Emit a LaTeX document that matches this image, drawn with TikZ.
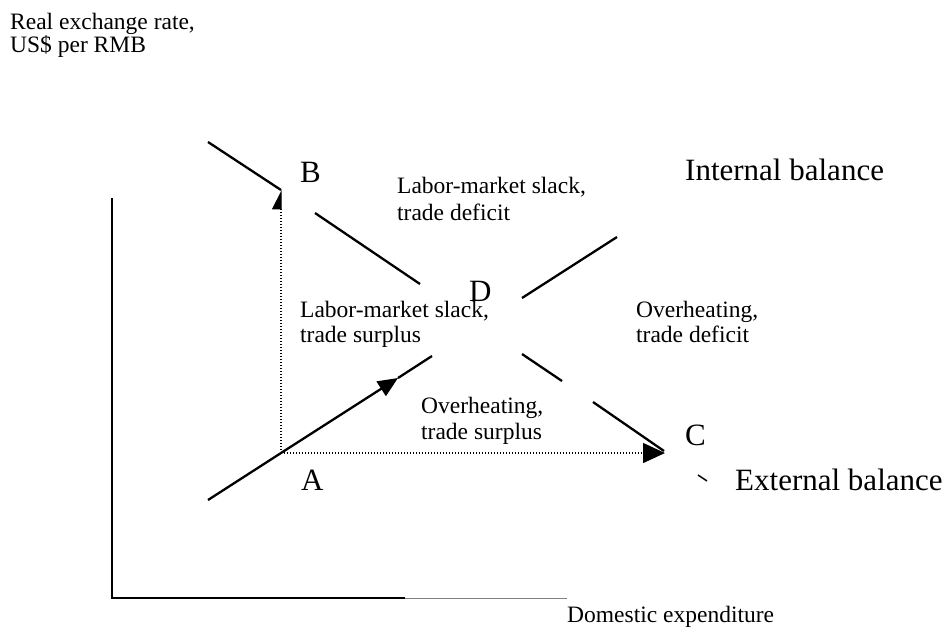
\documentclass[tikz,border=0pt]{standalone}
\usepackage{fontspec}
\setmainfont{Liberation Serif}
\usetikzlibrary{arrows.meta}
\begin{document}
\begin{tikzpicture}[x=1pt,y=-1pt,
  curve/.style={line width=2.3pt},
  axisline/.style={line width=2pt},
  guide/.style={line width=1.4pt, dash pattern=on 1.4pt off 1.6pt},
  small/.style={font=\fontsize{23.5}{27}\selectfont, inner sep=0pt, anchor=base west},
  big/.style={font=\fontsize{31}{35}\selectfont, inner sep=0pt, anchor=base west}]
\useasboundingbox (0,0) rectangle (948,633);
% axes
\coordinate (ytop) at (112,198);
\coordinate (O) at (112,598);
\coordinate (xblack) at (405,598);
\coordinate (xend) at (567,598);
\draw[axisline] (ytop) -- (O) -- (xblack);
\draw[line width=1pt, gray] (xblack) -- (xend);
% points
\coordinate (B) at (281,190);
\coordinate (A) at (281,453);
\coordinate (C) at (665,453);
% internal balance line pieces
\coordinate (i0) at (208,142);
\coordinate (i1) at (315,213);
\coordinate (i2) at (420,284);
\coordinate (i3) at (522,354);
\coordinate (i4) at (562,381);
\coordinate (i5) at (593,402);
\coordinate (i6) at (664,451);
\coordinate (i7) at (698,475);
\coordinate (i8) at (707,481);
% external balance line pieces
\coordinate (e0) at (208,500);
\coordinate (e1) at (398,378);
\coordinate (e2) at (432,356);
\coordinate (e3) at (522,298);
\coordinate (e4) at (617,237);
\draw[curve] (i0) -- (B);
\draw[curve] (i1) -- (i2);
\draw[curve] (i3) -- (i4);
\draw[curve] (i5) -- (i6);
\draw[line width=1.5pt] (i7) -- (i8);
\draw[curve, -{Triangle[length=20pt,width=17pt]}] (e0) -- (A) -- (e1);
\draw[curve] (e1) -- (e2);
\draw[curve] (e3) -- (e4);
\draw[guide, -{Triangle[length=18pt,width=18pt,left]}] (A) -- (B);
\draw[guide, -{Triangle[length=22pt,width=20pt]}] (A) -- (C);
% labels
\node[small] (ylab1) at (10,29) {Real exchange rate,};
\node[small] (ylab2) at (10,52) {US\$ per RMB};
\node[big] (Blab) at (300,182) {B};
\node[small] (r1a) at (397,193) {Labor-market slack,};
\node[small] (r1b) at (397,220) {trade deficit};
\node[big] (ib) at (685,180) {Internal balance};
\node[big] (Dlab) at (469,301) {D};
\node[small] (r2a) at (300,317) {Labor-market slack,};
\node[small] (r2b) at (300,342) {trade surplus};
\node[small] (r3a) at (636,317) {Overheating,};
\node[small] (r3b) at (636,342) {trade deficit};
\node[small] (r4a) at (421,413) {Overheating,};
\node[small] (r4b) at (421,439) {trade surplus};
\node[big] (Clab) at (685,445) {C};
\node[big] (Alab) at (301,490) {A};
\node[big] (eb) at (735,490) {External balance};
\node[small] (xlab) at (567,622) {Domestic expenditure};
\end{tikzpicture}
\end{document}
